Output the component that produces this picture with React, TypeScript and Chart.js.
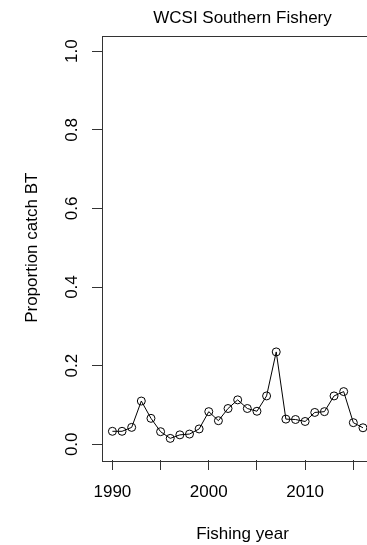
import React, { useEffect, useRef } from "react";
import { Chart, registerables } from "chart.js";

Chart.register(...registerables);

const years = [1990, 1991, 1992, 1993, 1994, 1995, 1996, 1997, 1998, 1999, 2000, 2001, 2002, 2003, 2004, 2005, 2006, 2007, 2008, 2009, 2010, 2011, 2012, 2013, 2014, 2015, 2016];
const proportionBT = [0.033, 0.033, 0.043, 0.110, 0.066, 0.032, 0.015, 0.024, 0.026, 0.039, 0.083, 0.060, 0.091, 0.113, 0.091, 0.084, 0.123, 0.235, 0.064, 0.063, 0.058, 0.081, 0.083, 0.123, 0.134, 0.055, 0.042];
const xTicks = [1990, 1995, 2000, 2005, 2010, 2015];
const xLabelled = [1990, 2000, 2010];
const yTicks = [0, 0.2, 0.4, 0.6, 0.8, 1.0];
const yTickLabels = ["0.0", "0.2", "0.4", "0.6", "0.8", "1.0"];
const titleText = "WCSI Southern Fishery";
const xTitle = "Fishing year";
const yTitle = "Proportion catch BT";

const FONT = '"Liberation Sans", Arial, sans-serif';

const textPlugin = {
  id: "rtext",
  afterDraw(chart: any) {
    const ctx = chart.ctx;
    const ca = chart.chartArea;
    const ys = chart.scales.y;
    ctx.save();
    // box
    ctx.strokeStyle = "#333";
    ctx.lineWidth = 1;
    ctx.strokeRect(Math.round(ca.left) + 0.5, Math.round(ca.top) + 0.5, Math.round(ca.right - ca.left), Math.round(ca.bottom - ca.top));
    ctx.fillStyle = "#000";
    ctx.font = `17px ${FONT}`;
    // title
    ctx.textAlign = "center";
    ctx.textBaseline = "alphabetic";
    const cx = (ca.left + ca.right) / 2;
    ctx.fillText(titleText, cx, 22.5);
    // x title
    ctx.fillText(xTitle, cx, 539);
    // y tick labels rotated
    yTicks.forEach((v, i) => {
      const py = ys.getPixelForValue(v);
      ctx.save();
      ctx.translate(77, py);
      ctx.rotate(-Math.PI / 2);
      ctx.fillText(yTickLabels[i], 0, 0);
      ctx.restore();
    });
    // y title
    ctx.save();
    ctx.translate(37, (ca.top + ca.bottom) / 2);
    ctx.rotate(-Math.PI / 2);
    ctx.fillText(yTitle, 0, 0);
    ctx.restore();
    ctx.restore();
  },
};

export default function App() {
  const ref = useRef<HTMLCanvasElement>(null);
  useEffect(() => {
    if (!ref.current) return;
    const chart = new Chart(ref.current, {
      type: "line",
      data: {
        datasets: [
          {
            data: years.map((y, i) => ({ x: y, y: proportionBT[i] })),
            borderColor: "#000",
            borderWidth: 1,
            pointRadius: 4,
            pointBorderWidth: 1,
            pointBorderColor: "#000",
            pointBackgroundColor: "rgba(0,0,0,0)",
            pointStyle: "circle",
            fill: false,
            tension: 0,
          },
        ],
      },
      options: {
        animation: false,
        responsive: true,
        maintainAspectRatio: false,
        layout: { padding: { top: 35.5, right: 37, left: 0, bottom: 0 } },
        plugins: { legend: { display: false }, tooltip: { enabled: false }, title: { display: false } },
        scales: {
          x: {
            type: "linear",
            min: 1988.92,
            max: 2018.08,
            afterBuildTicks: (s: any) => {
              s.ticks = xTicks.map((v) => ({ value: v }));
            },
            afterFit: (s: any) => {
              s.height = 85;
            },
            grid: { drawOnChartArea: false, drawTicks: true, tickLength: 10, color: "#333", lineWidth: 1 },
            border: { display: false },
            ticks: {
              autoSkip: false,
              maxRotation: 0,
              minRotation: 0,
              padding: 12,
              color: "#000",
              font: { family: FONT, size: 17 },
              callback: (v: any) => (xLabelled.includes(Number(v)) ? String(v) : ""),
            },
          },
          y: {
            type: "linear",
            min: -0.04,
            max: 1.04,
            afterBuildTicks: (s: any) => {
              s.ticks = yTicks.map((v) => ({ value: v }));
            },
            afterFit: (s: any) => {
              s.width = 102;
            },
            grid: { drawOnChartArea: false, drawTicks: true, tickLength: 10, color: "#333", lineWidth: 1 },
            border: { display: false },
            ticks: { display: false },
          },
        },
      },
      plugins: [textPlugin],
    });
    return () => chart.destroy();
  }, []);
  return (
    <div style={{ position: "absolute", left: 0, top: 0, width: 367, height: 545, overflow: "hidden", background: "#fff" }}>
      <div style={{ position: "relative", width: 420, height: 545 }}>
        <canvas ref={ref} />
      </div>
    </div>
  );
}
